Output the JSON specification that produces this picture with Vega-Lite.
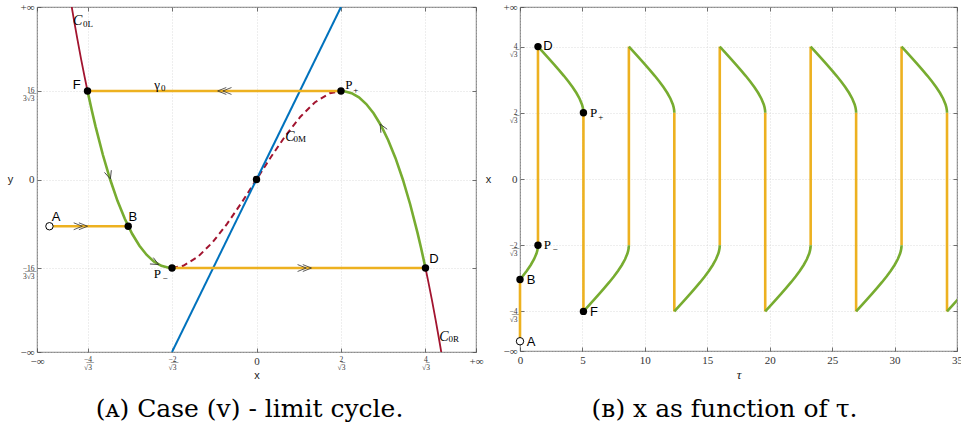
{
  "$schema": "https://vega.github.io/schema/vega-lite/v6.json",
  "padding": {"left": 6, "top": 0, "right": 0, "bottom": 0},
  "bounds": "flush",
  "spacing": 44,
  "config": {
    "view": {"stroke": "#4d4d4d", "strokeWidth": 0.8},
    "axis": {"domain": false, "grid": true, "gridColor": "#cfcfcf", "gridDash": [1, 2], "gridWidth": 0.7, "tickColor": "#4d4d4d", "tickSize": -4, "tickWidth": 0.8, "labelPadding": 7, "labelFont": "Liberation Serif", "labelFontSize": 10, "labelColor": "#333", "titleFont": "Liberation Sans", "titleFontWeight": "normal", "titleFontSize": 11, "titleColor": "#222", "labelOverlap": false, "labelFlush": false, "labelBound": false}
  },
  "datasets": {
    "cubic": [
      {"seg": "L", "x": -2.53, "y": 6.074}, {"seg": "L", "x": -2.5, "y": 5.625}, {"seg": "L", "x": -2.45, "y": 4.906}, {"seg": "L", "x": -2.4, "y": 4.224}, {"seg": "L", "x": -2.35, "y": 3.578}, {"seg": "L", "x": -2.3094, "y": 3.079},
      {"seg": "GL", "x": -2.3094, "y": 3.079}, {"seg": "GL", "x": -2.25, "y": 2.391}, {"seg": "GL", "x": -2.2, "y": 1.848}, {"seg": "GL", "x": -2.1, "y": 0.861}, {"seg": "GL", "x": -2.0, "y": 0}, {"seg": "GL", "x": -1.9, "y": -0.741}, {"seg": "GL", "x": -1.8, "y": -1.368}, {"seg": "GL", "x": -1.7, "y": -1.887}, {"seg": "GL", "x": -1.6, "y": -2.304}, {"seg": "GL", "x": -1.5, "y": -2.625}, {"seg": "GL", "x": -1.4, "y": -2.856}, {"seg": "GL", "x": -1.3, "y": -3.003}, {"seg": "GL", "x": -1.2, "y": -3.072}, {"seg": "GL", "x": -1.1547, "y": -3.079},
      {"seg": "M", "x": -1.1547, "y": -3.079}, {"seg": "M", "x": -1.0, "y": -3.0}, {"seg": "M", "x": -0.8, "y": -2.688}, {"seg": "M", "x": -0.6, "y": -2.184}, {"seg": "M", "x": -0.4, "y": -1.536}, {"seg": "M", "x": -0.2, "y": -0.792}, {"seg": "M", "x": 0, "y": 0}, {"seg": "M", "x": 0.2, "y": 0.792}, {"seg": "M", "x": 0.4, "y": 1.536}, {"seg": "M", "x": 0.6, "y": 2.184}, {"seg": "M", "x": 0.8, "y": 2.688}, {"seg": "M", "x": 1.0, "y": 3.0}, {"seg": "M", "x": 1.1547, "y": 3.079},
      {"seg": "GR", "x": 1.1547, "y": 3.079}, {"seg": "GR", "x": 1.2, "y": 3.072}, {"seg": "GR", "x": 1.3, "y": 3.003}, {"seg": "GR", "x": 1.4, "y": 2.856}, {"seg": "GR", "x": 1.5, "y": 2.625}, {"seg": "GR", "x": 1.6, "y": 2.304}, {"seg": "GR", "x": 1.7, "y": 1.887}, {"seg": "GR", "x": 1.8, "y": 1.368}, {"seg": "GR", "x": 1.9, "y": 0.741}, {"seg": "GR", "x": 2.0, "y": 0}, {"seg": "GR", "x": 2.1, "y": -0.861}, {"seg": "GR", "x": 2.2, "y": -1.848}, {"seg": "GR", "x": 2.25, "y": -2.391}, {"seg": "GR", "x": 2.3094, "y": -3.079},
      {"seg": "R", "x": 2.3094, "y": -3.079}, {"seg": "R", "x": 2.35, "y": -3.578}, {"seg": "R", "x": 2.4, "y": -4.224}, {"seg": "R", "x": 2.45, "y": -4.906}, {"seg": "R", "x": 2.5, "y": -5.625}, {"seg": "R", "x": 2.53, "y": -6.074}
    ],
    "blue": [{"x": -1.1547, "y": -6}, {"x": 1.1547, "y": 6}],
    "fastL": [{"x1": -2.83, "x2": -1.753, "y": -1.626}, {"x1": -2.3094, "x2": 1.1547, "y": 3.0792}, {"x1": -1.1547, "x2": 2.3094, "y": -3.0792}],
    "ptsL": [{"p": "B", "x": -1.753, "y": -1.626}, {"p": "F", "x": -2.3094, "y": 3.0792}, {"p": "P-", "x": -1.1547, "y": -3.0792}, {"p": "O", "x": 0, "y": 0}, {"p": "P+", "x": 1.1547, "y": 3.0792}, {"p": "D", "x": 2.3094, "y": -3.0792}],
    "openL": [{"p": "A", "x": -2.83, "y": -1.626}],
    "sansL": [{"t": "A", "x": -2.738, "y": -1.294}, {"t": "B", "x": -1.69, "y": -1.294}, {"t": "F", "x": -2.458, "y": 3.304}, {"t": "D", "x": 2.426, "y": -2.762}],
    "serifL": [{"t": "P", "x": -1.406, "y": -3.29}, {"t": "P", "x": 1.213, "y": 3.287}, {"t": "γ", "x": -1.396, "y": 3.28}],
    "serifSubL": [{"t": "−", "x": -1.285, "y": -3.42}, {"t": "+", "x": 1.322, "y": 3.1}, {"t": "0", "x": -1.305, "y": 3.17}],
    "capL": [{"t": "C", "x": -2.507, "y": 5.53}, {"t": "C", "x": 0.393, "y": 1.471}, {"t": "C", "x": 2.497, "y": -5.475}],
    "subL": [{"t": "0L", "x": -2.37, "y": 5.41}, {"t": "0M", "x": 0.507, "y": 1.412}, {"t": "0R", "x": 2.624, "y": -5.565}],
    "dblR": [{"x": -2.38, "y": -1.626}, {"x": 0.68, "y": -3.0792}],
    "dblL": [{"x": -0.46, "y": 3.0792}],
    "arr1": [{"x": -1.997, "y": 0.02}],
    "arr2": [{"x": -1.337, "y": -2.958}],
    "arr3": [{"x": 1.69, "y": 1.93}],
    "jumps": [
      {"t": 0, "a": -2.83, "b": -1.753}, {"t": 1.44, "a": -1.1547, "b": 2.3094}, {"t": 5.08, "a": 1.1547, "b": -2.3094}, {"t": 8.72, "a": -1.1547, "b": 2.3094}, {"t": 12.36, "a": 1.1547, "b": -2.3094}, {"t": 16.0, "a": -1.1547, "b": 2.3094}, {"t": 19.64, "a": 1.1547, "b": -2.3094}, {"t": 23.28, "a": -1.1547, "b": 2.3094}, {"t": 26.92, "a": 1.1547, "b": -2.3094}, {"t": 30.56, "a": -1.1547, "b": 2.3094}, {"t": 34.2, "a": 1.1547, "b": -2.3094}
    ],
    "slow": [
      {"s": "i", "t": 0, "x": -1.753}, {"s": "i", "t": 0.195, "x": -1.7}, {"s": "i", "t": 0.547, "x": -1.6}, {"s": "i", "t": 0.861, "x": -1.5}, {"s": "i", "t": 1.123, "x": -1.4}, {"s": "i", "t": 1.319, "x": -1.3}, {"s": "i", "t": 1.385, "x": -1.25}, {"s": "i", "t": 1.426, "x": -1.2}, {"s": "i", "t": 1.437, "x": -1.17}, {"s": "i", "t": 1.44, "x": -1.1547},
      {"s": "0", "t": 1.44, "x": 2.3094}, {"s": "0", "t": 1.898, "x": 2.2}, {"s": "0", "t": 2.314, "x": 2.1}, {"s": "0", "t": 2.724, "x": 2.0}, {"s": "0", "t": 3.125, "x": 1.9}, {"s": "0", "t": 3.512, "x": 1.8}, {"s": "0", "t": 3.878, "x": 1.7}, {"s": "0", "t": 4.218, "x": 1.6}, {"s": "0", "t": 4.521, "x": 1.5}, {"s": "0", "t": 4.774, "x": 1.4}, {"s": "0", "t": 4.963, "x": 1.3}, {"s": "0", "t": 5.027, "x": 1.25}, {"s": "0", "t": 5.067, "x": 1.2}, {"s": "0", "t": 5.077, "x": 1.17}, {"s": "0", "t": 5.08, "x": 1.1547},
      {"s": "1", "t": 5.08, "x": -2.3094}, {"s": "1", "t": 5.538, "x": -2.2}, {"s": "1", "t": 5.954, "x": -2.1}, {"s": "1", "t": 6.364, "x": -2.0}, {"s": "1", "t": 6.765, "x": -1.9}, {"s": "1", "t": 7.152, "x": -1.8}, {"s": "1", "t": 7.518, "x": -1.7}, {"s": "1", "t": 7.858, "x": -1.6}, {"s": "1", "t": 8.161, "x": -1.5}, {"s": "1", "t": 8.414, "x": -1.4}, {"s": "1", "t": 8.603, "x": -1.3}, {"s": "1", "t": 8.667, "x": -1.25}, {"s": "1", "t": 8.707, "x": -1.2}, {"s": "1", "t": 8.717, "x": -1.17}, {"s": "1", "t": 8.72, "x": -1.1547},
      {"s": "2", "t": 8.72, "x": 2.3094}, {"s": "2", "t": 9.178, "x": 2.2}, {"s": "2", "t": 9.594, "x": 2.1}, {"s": "2", "t": 10.004, "x": 2.0}, {"s": "2", "t": 10.405, "x": 1.9}, {"s": "2", "t": 10.792, "x": 1.8}, {"s": "2", "t": 11.158, "x": 1.7}, {"s": "2", "t": 11.498, "x": 1.6}, {"s": "2", "t": 11.801, "x": 1.5}, {"s": "2", "t": 12.054, "x": 1.4}, {"s": "2", "t": 12.243, "x": 1.3}, {"s": "2", "t": 12.307, "x": 1.25}, {"s": "2", "t": 12.347, "x": 1.2}, {"s": "2", "t": 12.357, "x": 1.17}, {"s": "2", "t": 12.36, "x": 1.1547},
      {"s": "3", "t": 12.36, "x": -2.3094}, {"s": "3", "t": 12.818, "x": -2.2}, {"s": "3", "t": 13.234, "x": -2.1}, {"s": "3", "t": 13.644, "x": -2.0}, {"s": "3", "t": 14.045, "x": -1.9}, {"s": "3", "t": 14.432, "x": -1.8}, {"s": "3", "t": 14.798, "x": -1.7}, {"s": "3", "t": 15.138, "x": -1.6}, {"s": "3", "t": 15.441, "x": -1.5}, {"s": "3", "t": 15.694, "x": -1.4}, {"s": "3", "t": 15.883, "x": -1.3}, {"s": "3", "t": 15.947, "x": -1.25}, {"s": "3", "t": 15.987, "x": -1.2}, {"s": "3", "t": 15.997, "x": -1.17}, {"s": "3", "t": 16.0, "x": -1.1547},
      {"s": "4", "t": 16.0, "x": 2.3094}, {"s": "4", "t": 16.458, "x": 2.2}, {"s": "4", "t": 16.874, "x": 2.1}, {"s": "4", "t": 17.284, "x": 2.0}, {"s": "4", "t": 17.685, "x": 1.9}, {"s": "4", "t": 18.072, "x": 1.8}, {"s": "4", "t": 18.438, "x": 1.7}, {"s": "4", "t": 18.778, "x": 1.6}, {"s": "4", "t": 19.081, "x": 1.5}, {"s": "4", "t": 19.334, "x": 1.4}, {"s": "4", "t": 19.523, "x": 1.3}, {"s": "4", "t": 19.587, "x": 1.25}, {"s": "4", "t": 19.627, "x": 1.2}, {"s": "4", "t": 19.637, "x": 1.17}, {"s": "4", "t": 19.64, "x": 1.1547},
      {"s": "5", "t": 19.64, "x": -2.3094}, {"s": "5", "t": 20.098, "x": -2.2}, {"s": "5", "t": 20.514, "x": -2.1}, {"s": "5", "t": 20.924, "x": -2.0}, {"s": "5", "t": 21.325, "x": -1.9}, {"s": "5", "t": 21.712, "x": -1.8}, {"s": "5", "t": 22.078, "x": -1.7}, {"s": "5", "t": 22.418, "x": -1.6}, {"s": "5", "t": 22.721, "x": -1.5}, {"s": "5", "t": 22.974, "x": -1.4}, {"s": "5", "t": 23.163, "x": -1.3}, {"s": "5", "t": 23.227, "x": -1.25}, {"s": "5", "t": 23.267, "x": -1.2}, {"s": "5", "t": 23.277, "x": -1.17}, {"s": "5", "t": 23.28, "x": -1.1547},
      {"s": "6", "t": 23.28, "x": 2.3094}, {"s": "6", "t": 23.738, "x": 2.2}, {"s": "6", "t": 24.154, "x": 2.1}, {"s": "6", "t": 24.564, "x": 2.0}, {"s": "6", "t": 24.965, "x": 1.9}, {"s": "6", "t": 25.352, "x": 1.8}, {"s": "6", "t": 25.718, "x": 1.7}, {"s": "6", "t": 26.058, "x": 1.6}, {"s": "6", "t": 26.361, "x": 1.5}, {"s": "6", "t": 26.614, "x": 1.4}, {"s": "6", "t": 26.803, "x": 1.3}, {"s": "6", "t": 26.867, "x": 1.25}, {"s": "6", "t": 26.907, "x": 1.2}, {"s": "6", "t": 26.917, "x": 1.17}, {"s": "6", "t": 26.92, "x": 1.1547},
      {"s": "7", "t": 26.92, "x": -2.3094}, {"s": "7", "t": 27.378, "x": -2.2}, {"s": "7", "t": 27.794, "x": -2.1}, {"s": "7", "t": 28.204, "x": -2.0}, {"s": "7", "t": 28.605, "x": -1.9}, {"s": "7", "t": 28.992, "x": -1.8}, {"s": "7", "t": 29.358, "x": -1.7}, {"s": "7", "t": 29.698, "x": -1.6}, {"s": "7", "t": 30.001, "x": -1.5}, {"s": "7", "t": 30.254, "x": -1.4}, {"s": "7", "t": 30.443, "x": -1.3}, {"s": "7", "t": 30.507, "x": -1.25}, {"s": "7", "t": 30.547, "x": -1.2}, {"s": "7", "t": 30.557, "x": -1.17}, {"s": "7", "t": 30.56, "x": -1.1547},
      {"s": "8", "t": 30.56, "x": 2.3094}, {"s": "8", "t": 31.018, "x": 2.2}, {"s": "8", "t": 31.434, "x": 2.1}, {"s": "8", "t": 31.844, "x": 2.0}, {"s": "8", "t": 32.245, "x": 1.9}, {"s": "8", "t": 32.632, "x": 1.8}, {"s": "8", "t": 32.998, "x": 1.7}, {"s": "8", "t": 33.338, "x": 1.6}, {"s": "8", "t": 33.641, "x": 1.5}, {"s": "8", "t": 33.894, "x": 1.4}, {"s": "8", "t": 34.083, "x": 1.3}, {"s": "8", "t": 34.147, "x": 1.25}, {"s": "8", "t": 34.187, "x": 1.2}, {"s": "8", "t": 34.197, "x": 1.17}, {"s": "8", "t": 34.2, "x": 1.1547},
      {"s": "9", "t": 34.2, "x": -2.3094}, {"s": "9", "t": 34.658, "x": -2.2}, {"s": "9", "t": 35.074, "x": -2.1}
    ],
    "ptsR": [{"p": "B", "t": 0, "x": -1.753}, {"p": "P-", "t": 1.44, "x": -1.1547}, {"p": "D", "t": 1.44, "x": 2.3094}, {"p": "P+", "t": 5.08, "x": 1.1547}, {"p": "F", "t": 5.08, "x": -2.3094}],
    "openR": [{"p": "A", "t": 0, "x": -2.83}],
    "sansR": [{"l": "D", "t": 1.866, "x": 2.313}, {"l": "B", "t": 0.536, "x": -1.76}, {"l": "F", "t": 5.6, "x": -2.315}, {"l": "A", "t": 0.536, "x": -2.836}],
    "serifR": [{"l": "P", "t": 5.6, "x": 1.159}, {"l": "P", "t": 1.905, "x": -1.157}],
    "serifSubR": [{"l": "+", "t": 6.27, "x": 1.09}, {"l": "−", "t": 2.61, "x": -1.215}]
  },
  "hconcat": [
    {
      "width": 439,
      "height": 345,
      "title": {"text": "(ᴀ) Case (v) - limit cycle.", "orient": "bottom", "anchor": "middle", "font": "DejaVu Serif", "fontSize": 25, "fontWeight": "normal", "color": "#000", "offset": 16, "dx": -7},
      "resolve": {"axis": {"x": "independent", "y": "independent"}},
      "layer": [
        {
          "data": {"name": "cubic"},
          "transform": [{"filter": "datum.seg == 'L' || datum.seg == 'R'"}],
          "mark": {"type": "line", "color": "#a2142f", "strokeWidth": 1.8, "clip": true},
          "encoding": {
            "x": {"field": "x", "type": "quantitative", "scale": {"domain": [-3, 3], "nice": false, "zero": false},
              "axis": {"values": [-3, -2.3094, -1.1547, 0, 1.1547, 2.3094, 3], "title": "x", "titlePadding": -1, "labelLineHeight": 8,
                "labelExpr": "datum.value < -2.9 ? '−∞' : datum.value < -2 ? ['−̲4̲','√3'] : datum.value < -1 ? ['−̲2̲','√3'] : datum.value < 1 ? '0' : datum.value < 2 ? ['2̲','√3'] : datum.value < 2.9 ? ['4̲','√3'] : '+∞'",
                "labelFontSize": {"condition": {"test": "abs(datum.value) > 1 && abs(datum.value) < 2.9", "value": 7.5}, "value": 11}}},
            "y": {"field": "y", "type": "quantitative", "scale": {"domain": [-6, 6], "nice": false, "zero": false},
              "axis": {"values": [-6, -3.0792, 0, 3.0792, 6], "title": "y", "titleAngle": 0, "titleAlign": "center", "titleBaseline": "middle", "titleX": -27, "titleY": 172.5, "labelLineHeight": 8,
                "labelExpr": "datum.value < -5 ? '−∞' : datum.value < -1 ? ['−̲1̲6̲','3√3'] : datum.value < 1 ? '0' : datum.value < 5 ? ['1̲6̲','3√3'] : '+∞'",
                "labelFontSize": {"condition": {"test": "abs(datum.value) > 1 && abs(datum.value) < 5", "value": 7.5}, "value": 11}}},
            "detail": {"field": "seg"}
          }
        },
        {
          "data": {"name": "cubic"},
          "transform": [{"filter": "datum.seg == 'M'"}],
          "mark": {"type": "line", "color": "#a2142f", "strokeWidth": 2, "strokeDash": [6, 4]},
          "encoding": {
            "x": {"field": "x", "type": "quantitative", "axis": {"orient": "top", "values": [-3, -2.3094, -1.1547, 0, 1.1547, 2.3094, 3], "labels": false, "title": null, "grid": false}},
            "y": {"field": "y", "type": "quantitative", "axis": {"orient": "right", "values": [-6, -3.0792, 0, 3.0792, 6], "labels": false, "title": null, "grid": false}}
          }
        },
        {
          "data": {"name": "blue"},
          "mark": {"type": "line", "color": "#0072bd", "strokeWidth": 2, "clip": true},
          "encoding": {"x": {"field": "x", "type": "quantitative", "axis": null}, "y": {"field": "y", "type": "quantitative", "axis": null}}
        },
        {
          "data": {"name": "cubic"},
          "transform": [{"filter": "datum.seg == 'GL' || datum.seg == 'GR'"}],
          "mark": {"type": "line", "color": "#77ac30", "strokeWidth": 2.6},
          "encoding": {"x": {"field": "x", "type": "quantitative", "axis": null}, "y": {"field": "y", "type": "quantitative", "axis": null}, "detail": {"field": "seg"}}
        },
        {
          "data": {"name": "fastL"},
          "mark": {"type": "rule", "color": "#edb120", "strokeWidth": 2.6},
          "encoding": {"x": {"field": "x1", "type": "quantitative", "axis": null}, "x2": {"field": "x2"}, "y": {"field": "y", "type": "quantitative", "axis": null}}
        },
        {
          "data": {"name": "dblR"},
          "mark": {"type": "point", "shape": "M -1 -0.4 L 0 0 L -1 0.4 M -0.4 -0.4 L 0.6 0 L -0.4 0.4", "size": 300, "filled": false, "stroke": "#333", "strokeWidth": 0.8, "opacity": 1},
          "encoding": {"x": {"field": "x", "type": "quantitative", "axis": null}, "y": {"field": "y", "type": "quantitative", "axis": null}}
        },
        {
          "data": {"name": "dblL"},
          "mark": {"type": "point", "shape": "M 1 -0.4 L 0 0 L 1 0.4 M 0.4 -0.4 L -0.6 0 L 0.4 0.4", "size": 300, "filled": false, "stroke": "#333", "strokeWidth": 0.8, "opacity": 1},
          "encoding": {"x": {"field": "x", "type": "quantitative", "axis": null}, "y": {"field": "y", "type": "quantitative", "axis": null}}
        },
        {
          "data": {"name": "arr1"},
          "mark": {"type": "point", "shape": "M -1 -0.45 L 0 0 L -1 0.45", "size": 256, "filled": false, "stroke": "#333", "strokeWidth": 0.8, "opacity": 1, "angle": 72},
          "encoding": {"x": {"field": "x", "type": "quantitative", "axis": null}, "y": {"field": "y", "type": "quantitative", "axis": null}}
        },
        {
          "data": {"name": "arr2"},
          "mark": {"type": "point", "shape": "M -1 -0.45 L 0 0 L -1 0.45", "size": 256, "filled": false, "stroke": "#333", "strokeWidth": 0.8, "opacity": 1, "angle": 28},
          "encoding": {"x": {"field": "x", "type": "quantitative", "axis": null}, "y": {"field": "y", "type": "quantitative", "axis": null}}
        },
        {
          "data": {"name": "arr3"},
          "mark": {"type": "point", "shape": "M -1 -0.45 L 0 0 L -1 0.45", "size": 256, "filled": false, "stroke": "#333", "strokeWidth": 0.8, "opacity": 1, "angle": 241},
          "encoding": {"x": {"field": "x", "type": "quantitative", "axis": null}, "y": {"field": "y", "type": "quantitative", "axis": null}}
        },
        {
          "data": {"name": "ptsL"},
          "mark": {"type": "point", "shape": "circle", "filled": true, "color": "#000", "size": 55, "opacity": 1},
          "encoding": {"x": {"field": "x", "type": "quantitative", "axis": null}, "y": {"field": "y", "type": "quantitative", "axis": null}}
        },
        {
          "data": {"name": "openL"},
          "mark": {"type": "point", "shape": "circle", "filled": false, "stroke": "#000", "fill": "#fff", "strokeWidth": 1, "size": 55, "opacity": 1},
          "encoding": {"x": {"field": "x", "type": "quantitative", "axis": null}, "y": {"field": "y", "type": "quantitative", "axis": null}}
        },
        {
          "data": {"name": "sansL"},
          "mark": {"type": "text", "font": "Liberation Sans", "fontSize": 13, "color": "#000", "align": "center", "baseline": "middle"},
          "encoding": {"x": {"field": "x", "type": "quantitative", "axis": null}, "y": {"field": "y", "type": "quantitative", "axis": null}, "text": {"field": "t"}}
        },
        {
          "data": {"name": "serifL"},
          "mark": {"type": "text", "font": "Liberation Serif", "fontSize": 13, "color": "#000", "align": "left", "baseline": "middle"},
          "encoding": {"x": {"field": "x", "type": "quantitative", "axis": null}, "y": {"field": "y", "type": "quantitative", "axis": null}, "text": {"field": "t"}}
        },
        {
          "data": {"name": "serifSubL"},
          "mark": {"type": "text", "font": "Liberation Serif", "fontSize": 9, "color": "#000", "align": "left", "baseline": "middle"},
          "encoding": {"x": {"field": "x", "type": "quantitative", "axis": null}, "y": {"field": "y", "type": "quantitative", "axis": null}, "text": {"field": "t"}}
        },
        {
          "data": {"name": "capL"},
          "mark": {"type": "text", "font": "Liberation Serif", "fontSize": 14, "fontStyle": "italic", "color": "#000", "align": "left", "baseline": "middle"},
          "encoding": {"x": {"field": "x", "type": "quantitative", "axis": null}, "y": {"field": "y", "type": "quantitative", "axis": null}, "text": {"field": "t"}}
        },
        {
          "data": {"name": "subL"},
          "mark": {"type": "text", "font": "Liberation Serif", "fontSize": 9, "color": "#000", "align": "left", "baseline": "middle"},
          "encoding": {"x": {"field": "x", "type": "quantitative", "axis": null}, "y": {"field": "y", "type": "quantitative", "axis": null}, "text": {"field": "t"}}
        }
      ]
    },
    {
      "width": 437,
      "height": 344,
      "title": {"text": "(ʙ) x as function of τ.", "orient": "bottom", "anchor": "middle", "font": "DejaVu Serif", "fontSize": 25, "fontWeight": "normal", "color": "#000", "offset": 16, "dx": -14},
      "resolve": {"axis": {"x": "independent", "y": "independent"}},
      "layer": [
        {
          "data": {"name": "jumps"},
          "mark": {"type": "rule", "color": "#edb120", "strokeWidth": 2.6},
          "encoding": {
            "x": {"field": "t", "type": "quantitative", "scale": {"domain": [0, 35], "nice": false, "zero": false},
              "axis": {"values": [0, 5, 10, 15, 20, 25, 30, 35], "title": "τ", "titleFont": "Liberation Serif", "titleFontStyle": "italic", "titleFontSize": 13, "titlePadding": 3, "labelFontSize": 11}},
            "y": {"field": "a", "type": "quantitative", "scale": {"domain": [-3, 3], "nice": false, "zero": false},
              "axis": {"values": [-3, -2.3094, -1.1547, 0, 1.1547, 2.3094, 3], "title": "x", "titleAngle": 0, "titleAlign": "center", "titleBaseline": "middle", "titleX": -32, "titleY": 172, "labelLineHeight": 8,
                "labelExpr": "datum.value < -2.9 ? '−∞' : datum.value < -2 ? ['−̲4̲','√3'] : datum.value < -1 ? ['−̲2̲','√3'] : datum.value < 1 ? '0' : datum.value < 2 ? ['2̲','√3'] : datum.value < 2.9 ? ['4̲','√3'] : '+∞'",
                "labelFontSize": {"condition": {"test": "abs(datum.value) > 1 && abs(datum.value) < 2.9", "value": 7.5}, "value": 11}}},
            "y2": {"field": "b"}
          }
        },
        {
          "data": {"name": "slow"},
          "mark": {"type": "line", "color": "#77ac30", "strokeWidth": 2.6, "clip": true},
          "encoding": {
            "x": {"field": "t", "type": "quantitative", "axis": {"orient": "top", "values": [0, 5, 10, 15, 20, 25, 30, 35], "labels": false, "title": null, "grid": false}},
            "y": {"field": "x", "type": "quantitative", "axis": {"orient": "right", "values": [-3, -2.3094, -1.1547, 0, 1.1547, 2.3094, 3], "labels": false, "title": null, "grid": false}},
            "detail": {"field": "s"}
          }
        },
        {
          "data": {"name": "ptsR"},
          "mark": {"type": "point", "shape": "circle", "filled": true, "color": "#000", "size": 55, "opacity": 1},
          "encoding": {"x": {"field": "t", "type": "quantitative", "axis": null}, "y": {"field": "x", "type": "quantitative", "axis": null}}
        },
        {
          "data": {"name": "openR"},
          "mark": {"type": "point", "shape": "circle", "filled": false, "stroke": "#000", "fill": "#fff", "strokeWidth": 1, "size": 55, "opacity": 1},
          "encoding": {"x": {"field": "t", "type": "quantitative", "axis": null}, "y": {"field": "x", "type": "quantitative", "axis": null}}
        },
        {
          "data": {"name": "sansR"},
          "mark": {"type": "text", "font": "Liberation Sans", "fontSize": 13, "color": "#000", "align": "left", "baseline": "middle"},
          "encoding": {"x": {"field": "t", "type": "quantitative", "axis": null}, "y": {"field": "x", "type": "quantitative", "axis": null}, "text": {"field": "l"}}
        },
        {
          "data": {"name": "serifR"},
          "mark": {"type": "text", "font": "Liberation Serif", "fontSize": 13, "color": "#000", "align": "left", "baseline": "middle"},
          "encoding": {"x": {"field": "t", "type": "quantitative", "axis": null}, "y": {"field": "x", "type": "quantitative", "axis": null}, "text": {"field": "l"}}
        },
        {
          "data": {"name": "serifSubR"},
          "mark": {"type": "text", "font": "Liberation Serif", "fontSize": 9, "color": "#000", "align": "left", "baseline": "middle"},
          "encoding": {"x": {"field": "t", "type": "quantitative", "axis": null}, "y": {"field": "x", "type": "quantitative", "axis": null}, "text": {"field": "l"}}
        }
      ]
    }
  ]
}
